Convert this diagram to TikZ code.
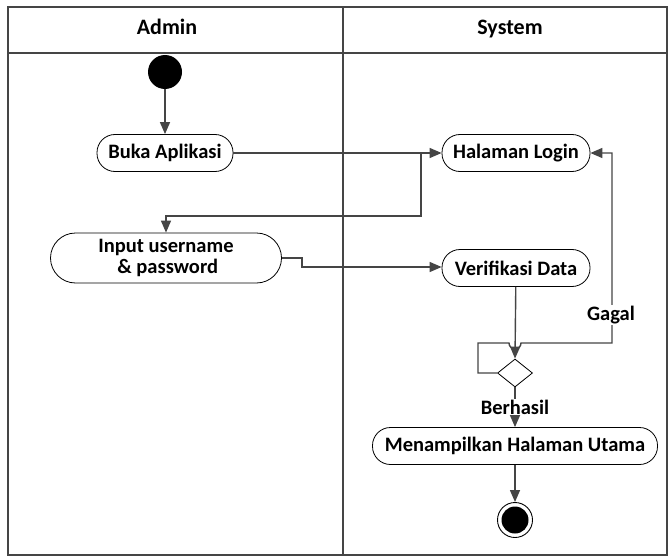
\documentclass[tikz,border=0pt]{standalone}
\usepackage{fontspec}
\setmainfont{Carlito}
\usetikzlibrary{shapes.geometric,arrows.meta}
\definecolor{ln}{HTML}{454545}
\begin{document}
\begin{tikzpicture}[x=1pt,y=-1pt,
  every node/.style={font=\fontsize{20.5}{21}\selectfont\bfseries},
  act/.style={draw=black,line width=0.8pt,rounded corners=18pt,minimum height=37pt,inner sep=2pt,align=center},
  flow/.style={draw=ln,line width=1.4pt,-{Triangle[length=12pt,width=10pt]}},
  frame/.style={draw=ln,line width=1.2pt},
  head/.style={font=\fontsize{22}{22}\selectfont\bfseries,anchor=base}]
\useasboundingbox (0,0) rectangle (669,559);
% swimlanes
\draw[frame] (8,7) rectangle (667,555);
\draw[frame] (8,53) -- (667,53);
\draw[frame] (343,7) -- (343,555);
\node[head] (hadmin) at (167,35) {Admin};
\node[head] (hsys) at (510,35) {System};
% nodes
\node[circle,fill=black,minimum size=34pt,inner sep=0] (start) at (165,72) {};
\node[act,minimum width=136pt] (buka) at (165,153) {Buka Aplikasi};
\node[act,minimum width=148pt] (login) at (516,153) {Halaman Login};
\node[act,minimum width=231pt,minimum height=50pt,rounded corners=25pt,inner sep=0pt] (input) at (166,258) {Input username\\\,\& password};
\node[act,minimum width=148pt] (verif) at (516,268) {Verifikasi Data};
\node[diamond,draw=black,line width=0.8pt,minimum width=35pt,minimum height=28pt,inner sep=0] (dec) at (515,373) {};
\node[act,minimum width=285pt] (utama) at (515,446) {Menampilkan Halaman Utama};
\node[circle,draw=black,line width=0.9pt,minimum size=35pt,inner sep=0] (endo) at (515,520) {};
\node[circle,fill=black,minimum size=27pt,inner sep=0] (endi) at (515,520) {};
\coordinate (c1) at (421,153);
\coordinate (c2) at (421,216);
\coordinate (c3) at (166,216);
\coordinate (c4) at (302,258);
\coordinate (c5) at (302,267);
\coordinate (l1) at (478,373);
\coordinate (l2) at (478,343);
\coordinate (h1) at (509,343);
\coordinate (l3) at (612,343);
\coordinate (l4) at (612,153);
% connectors
\draw[flow] (start) -- (buka);
\draw[flow] (buka) -- (login);
\draw[flow] (c1) -- (c2) -- (c3) -- (input.north);
\draw[flow] (input.east) -- (c4) -- (c5) -- (verif.west |- c5);
\draw[flow] (verif) -- (dec.north);
\draw[flow] (dec.west) -- (l1) -- (l2) -- (h1) arc[start angle=180,end angle=0,radius=6] -- (l3) -- (l4) -- (login.east);
\node[fill=white,inner sep=1pt] (gagal) at (611,315) {Gagal};
\draw[flow] (dec.south) -- (utama.north);
\node[fill=white,inner sep=1pt] (berhasil) at (515,407) {Berhasil};
\draw[flow] (utama) -- (endo);
\end{tikzpicture}
\end{document}
